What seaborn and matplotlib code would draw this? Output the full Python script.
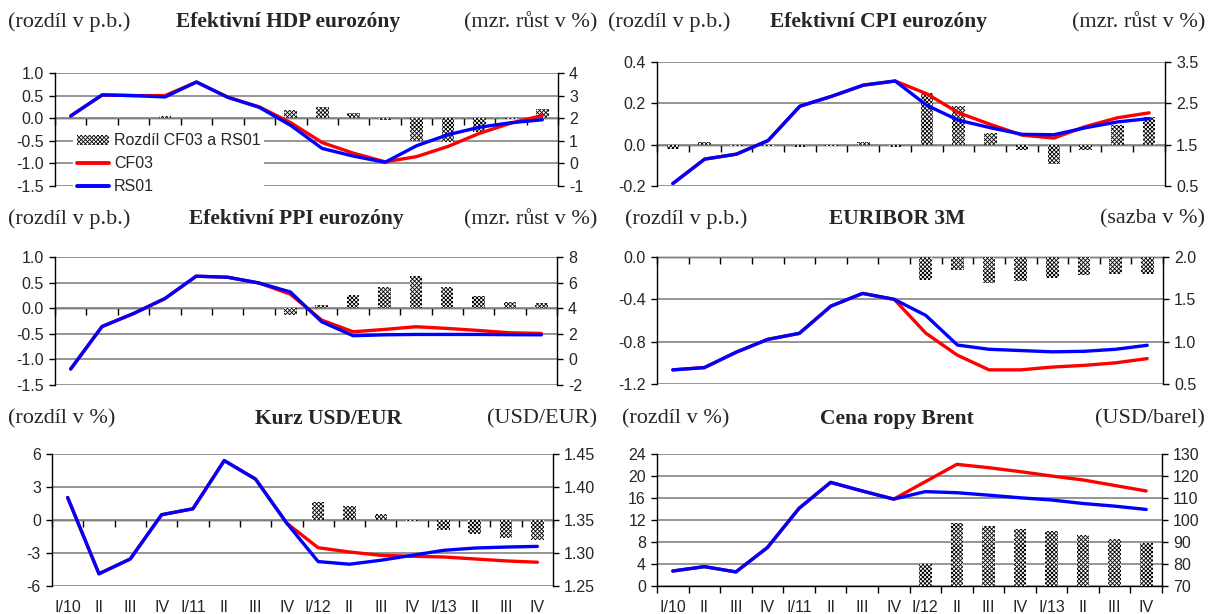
import numpy as np
import matplotlib
matplotlib.use("Agg")
import matplotlib.pyplot as plt
import seaborn as sns
from matplotlib.patches import Patch
from matplotlib.lines import Line2D

# -----------------------------------------------------------
# Data
# -----------------------------------------------------------
quarters = ["I/10", "II", "III", "IV", "I/11", "II", "III", "IV",
            "I/12", "II", "III", "IV", "I/13", "II", "III", "IV"]

hdp_diff = [0.0, 0.0, 0.0, 0.04, 0.0, 0.0, 0.0, 0.18,
            0.24, 0.12, -0.05, -0.5, -0.52, -0.3, -0.02, 0.21]
hdp_cf = [2.1, 3.03, 3.0, 3.0, 3.6, 2.93, 2.5, 1.8,
          0.92, 0.45, 0.07, 0.3, 0.75, 1.33, 1.78, 2.12]
hdp_rs = [2.1, 3.03, 3.0, 2.94, 3.6, 2.92, 2.48, 1.68,
          0.66, 0.32, 0.05, 0.78, 1.27, 1.6, 1.8, 1.93]

cpi_diff = [-0.02, 0.012, -0.005, -0.006, -0.01, -0.008, 0.014, -0.01,
            0.25, 0.185, 0.056, -0.024, -0.095, -0.027, 0.094, 0.134]
cpi_cf = [0.56, 1.15, 1.27, 1.6, 2.43, 2.67, 2.94, 3.04,
          2.73, 2.27, 1.99, 1.73, 1.66, 1.94, 2.15, 2.27]
cpi_rs = [0.56, 1.15, 1.27, 1.6, 2.43, 2.67, 2.94, 3.04,
          2.45, 2.09, 1.91, 1.75, 1.74, 1.91, 2.05, 2.13]

ppi_diff = [0, 0, 0, 0, 0, 0, 0, -0.13,
            0.07, 0.25, 0.42, 0.63, 0.42, 0.24, 0.12, 0.10]
ppi_cf = [-0.75, 2.57, 3.58, 4.75, 6.5, 6.42, 5.97, 5.1,
          3.07, 2.16, 2.34, 2.55, 2.42, 2.26, 2.08, 2.03]
ppi_rs = [-0.75, 2.57, 3.58, 4.75, 6.5, 6.42, 5.97, 5.27,
          2.94, 1.85, 1.92, 1.95, 1.95, 1.95, 1.93, 1.92]

eur_diff = [0, 0, 0, 0, 0, 0, 0, 0,
            -0.22, -0.126, -0.245, -0.226, -0.2, -0.173, -0.163, -0.163]
eur_cf = [0.667, 0.694, 0.875, 1.027, 1.098, 1.42, 1.57, 1.5,
          1.1, 0.84, 0.667, 0.667, 0.7, 0.72, 0.75, 0.8]
eur_rs = [0.667, 0.694, 0.875, 1.027, 1.098, 1.42, 1.57, 1.5,
          1.31, 0.96, 0.91, 0.895, 0.88, 0.886, 0.91, 0.957]

usd_diff = [0, 0, 0, 0, 0, 0, 0, 0,
            1.64, 1.31, 0.58, -0.09, -0.88, -1.3, -1.64, -1.85]
usd_cf = [1.384, 1.2685, 1.291, 1.358, 1.367, 1.44, 1.412, 1.345,
          1.308, 1.3015, 1.2965, 1.295, 1.294, 1.291, 1.288, 1.286]
usd_rs = [1.384, 1.2685, 1.291, 1.358, 1.367, 1.44, 1.412, 1.345,
          1.287, 1.283, 1.289, 1.2965, 1.304, 1.3075, 1.309, 1.31]

brent_diff = [0, 0, 0, 0, 0, 0, 0, 0,
              4.07, 11.5, 10.9, 10.45, 9.96, 9.23, 8.5, 7.84]
brent_cf = [76.8, 78.8, 76.4, 87.5, 105.3, 117.1, 113.2, 109.5,
            117.4, 125.3, 123.8, 122.0, 120.0, 118.2, 115.7, 113.2]
brent_rs = [76.8, 78.8, 76.4, 87.5, 105.3, 117.1, 113.2, 109.5,
            112.9, 112.4, 111.3, 110.1, 109.1, 107.5, 106.3, 104.8]

# -----------------------------------------------------------
# Style
# -----------------------------------------------------------
sns.set_theme(style="white")
plt.rcParams["font.family"] = ["Liberation Sans", "DejaVu Sans"]
plt.rcParams["hatch.linewidth"] = 0.6
SERIF = ["Liberation Serif", "DejaVu Serif"]
HATCH = "xxxxxxxx"
GRID = "#8c8c8c"

W, H = 1208, 614
fig = plt.figure(figsize=(W / 100, H / 100), dpi=100)


def panel(box, diff, cf, rs, lim_l, ticks_l, fmt_l, lim_r, ticks_r, fmt_r,
          xlabels=False):
    x0, y0, x1, y1 = box
    ax = fig.add_axes([x0 / W, 1 - y1 / H, (x1 - x0) / W, (y1 - y0) / H])
    pos = np.arange(len(quarters))

    sns.barplot(x=pos, y=diff, ax=ax, color="white", saturation=1,
                width=0.4, edgecolor="black", linewidth=0, hatch=HATCH)
    ax.set_xlim(-0.5, 15.5)
    ax.set_ylim(*lim_l)
    ax.set_yticks(ticks_l, [fmt_l.format(t) for t in ticks_l])
    ax.yaxis.grid(True, color=GRID, lw=1.3)
    ax.set_axisbelow(True)
    for s in ("top", "bottom", "right"):
        ax.spines[s].set_visible(False)
    ax.spines["left"].set_color("black")
    ax.spines["left"].set_linewidth(1)
    ax.tick_params(axis="y", left=True, direction="out", length=4,
                   width=1, color="black", pad=4, labelsize=11.5)
    ax.set_xlabel("")
    ax.set_ylabel("")
    if xlabels:
        ax.set_xticks(pos, quarters)
        ax.tick_params(axis="x", bottom=True, length=0, pad=10, labelsize=11.5)
    else:
        ax.set_xticks([])

    # category axis crossing at zero
    sec = ax.secondary_xaxis(0, transform=ax.transData)
    sec.set_xticks(np.arange(-0.5, 16, 1))
    sec.tick_params(direction="out", length=5, width=1, color="black",
                    labelbottom=False)
    sec.spines["bottom"].set_color("black")
    sec.spines["bottom"].set_linewidth(1)

    ax2 = ax.twinx()
    sns.lineplot(x=pos, y=cf, ax=ax2, color="#ff0000", lw=2.4)
    sns.lineplot(x=pos, y=rs, ax=ax2, color="#0000ff", lw=2.4)
    ax2.set_ylim(*lim_r)
    ax2.set_yticks(ticks_r, [fmt_r.format(t) for t in ticks_r])
    for s in ("top", "bottom", "left"):
        ax2.spines[s].set_visible(False)
    ax2.spines["right"].set_color("black")
    ax2.spines["right"].set_linewidth(1)
    ax2.tick_params(axis="y", right=True, direction="out", length=4,
                    width=1, color="black", pad=4, labelsize=11.5)
    ax2.set_ylabel("")
    return ax, ax2


def header(y, xl, left, xc, title, xr, right):
    fig.text(xl / W, 1 - y / H, left, ha="left", va="center",
             family=SERIF, fontsize=16)
    fig.text(xc / W, 1 - y / H, title, ha="center", va="center",
             family=SERIF, fontsize=15.5, fontweight="bold")
    fig.text(xr / W, 1 - y / H, right, ha="right", va="center",
             family=SERIF, fontsize=16)


# -----------------------------------------------------------
# Panels
# -----------------------------------------------------------
ax, ax2 = panel((55, 73, 558, 186), hdp_diff, hdp_cf, hdp_rs,
                (-1.5, 1.0), [-1.5, -1.0, -0.5, 0.0, 0.5, 1.0], "{:.1f}",
                (-1, 4), [-1, 0, 1, 2, 3, 4], "{:.0f}")
handles = [Patch(facecolor="white", edgecolor="black", linewidth=0, hatch=HATCH),
           Line2D([], [], color="#ff0000", lw=2.8),
           Line2D([], [], color="#0000ff", lw=2.8)]
ax2.legend(handles, ["Rozdíl CF03 a RS01", "CF03", "RS01"],
           loc="upper left", bbox_to_anchor=(0.036, 0.50), fontsize=11.5,
           frameon=True, facecolor="white", edgecolor="none", framealpha=1,
           fancybox=False, handlelength=2.0, handleheight=0.6,
           handletextpad=0.3, labelspacing=0.5, borderpad=0.25,
           borderaxespad=0)

panel((657, 62, 1165, 186), cpi_diff, cpi_cf, cpi_rs,
      (-0.2, 0.4), [-0.2, 0.0, 0.2, 0.4], "{:.1f}",
      (0.5, 3.5), [0.5, 1.5, 2.5, 3.5], "{:.1f}")

panel((55, 257, 557, 385), ppi_diff, ppi_cf, ppi_rs,
      (-1.5, 1.0), [-1.5, -1.0, -0.5, 0.0, 0.5, 1.0], "{:.1f}",
      (-2, 8), [-2, 0, 2, 4, 6, 8], "{:.0f}")

panel((657, 257, 1163, 384), eur_diff, eur_cf, eur_rs,
      (-1.2, 0.0), [-1.2, -0.8, -0.4, 0.0], "{:.1f}",
      (0.5, 2.0), [0.5, 1.0, 1.5, 2.0], "{:.1f}")

panel((52, 454, 553, 586), usd_diff, usd_cf, usd_rs,
      (-6, 6), [-6, -3, 0, 3, 6], "{:.0f}",
      (1.25, 1.45), [1.25, 1.30, 1.35, 1.40, 1.45], "{:.2f}", xlabels=True)

panel((657, 454, 1162, 586), brent_diff, brent_cf, brent_rs,
      (0, 24), [0, 4, 8, 12, 16, 20, 24], "{:.0f}",
      (70, 130), [70, 80, 90, 100, 110, 120, 130], "{:.0f}", xlabels=True)

# -----------------------------------------------------------
# Headers
# -----------------------------------------------------------
header(22, 8, "(rozdíl v p.b.)", 288, "Efektivní HDP eurozóny", 597, "(mzr. růst v %)")
header(22, 608, "(rozdíl v p.b.)", 878, "Efektivní CPI eurozóny", 1205, "(mzr. růst v %)")
header(219, 8, "(rozdíl v p.b.)", 296, "Efektivní PPI eurozóny", 597, "(mzr. růst v %)")
header(219, 625, "(rozdíl v p.b.)", 897, "EURIBOR 3M", 1205, "(sazba v %)")
header(419, 8, "(rozdíl v %)", 329, "Kurz USD/EUR", 597, "(USD/EUR)")
header(419, 622, "(rozdíl v %)", 897, "Cena ropy Brent", 1205, "(USD/barel)")

fig.savefig("out.png", dpi=100)
